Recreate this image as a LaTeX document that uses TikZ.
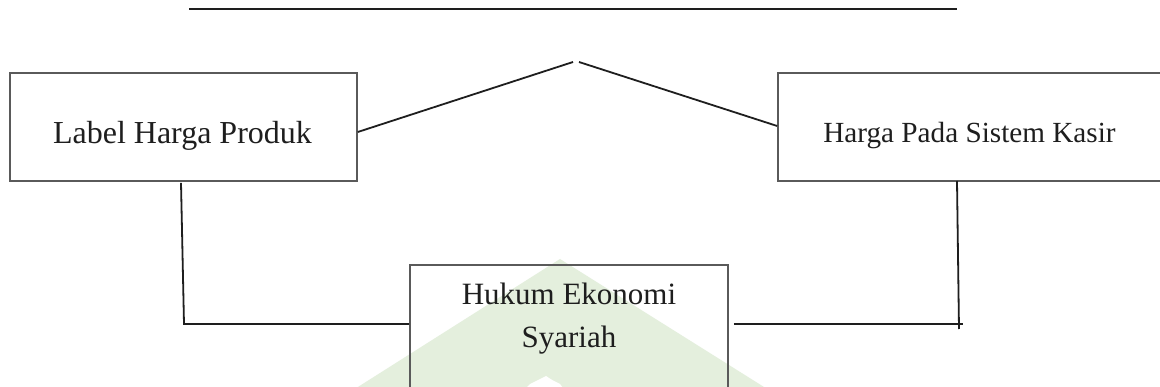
\documentclass[tikz,border=0pt]{standalone}
\usepackage{fontspec}
\setmainfont{Liberation Serif}
\usetikzlibrary{calc}
\definecolor{boxgray}{HTML}{5A5A5A}
\definecolor{ink}{HTML}{1E1E1E}
\definecolor{wmgreen}{HTML}{E4EFDD}
\tikzset{
  framebox/.style={draw=boxgray, line width=1.6pt, rectangle, inner sep=0pt},
  link/.style={draw=ink, line width=1.8pt},
  caption/.style={text=ink, inner sep=0pt}
}
\begin{document}
\begin{tikzpicture}[x=1pt, y=-1pt]
  \useasboundingbox (0,0) rectangle (1160,387);
  \clip (0,0) rectangle (1160,387);
  \fill[white] (0,0) rectangle (1160,387);

  % faint background emblem
  \fill[wmgreen] (560,259) -- (772,392) -- (350,392) -- cycle;
  \fill[white] (522,392) -- (530,384) .. controls (538,380) .. (546,376) .. controls (552,380) .. (560,384) -- (566,392) -- cycle;

  % rule across the top
  \coordinate (topL) at (189,9);
  \coordinate (topR) at (957,9);
  \draw[draw=ink, line width=2.2pt] (topL) -- (topR);

  % boxes
  \node[framebox, minimum width=347pt, minimum height=108pt] (lhp) at (183.5,127) {};
  \node[framebox, minimum width=390pt, minimum height=108pt] (hps) at (973,127) {};
  \node[framebox, minimum width=318pt, minimum height=140pt] (hes) at (569,335) {};

  % box texts
  \node[caption, anchor=base, font=\fontsize{32}{38}\selectfont] (lhpText) at (182.5,144) {Label Harga Produk};
  \node[caption, anchor=base, font=\fontsize{29.2}{35}\selectfont] (hpsText) at (969.5,143) {Harga Pada Sistem Kasir};
  \node[caption, anchor=north, align=center, font=\fontsize{31}{43}\selectfont] (hesText) at (569,282.8) {Hukum Ekonomi\\Syariah};

  % roof-shaped link between the two upper boxes
  \coordinate (apexL) at (573,62);
  \coordinate (apexR) at (579,62);
  \draw[link] ($(lhp.east)+(0,5)$) -- (apexL);
  \draw[link] (apexR) -- ($(hps.west)+(0,-1)$);

  % left elbow down to the lower box
  \coordinate (lTop) at ($(lhp.south)+(-2.5,1)$);
  \coordinate (lCorner) at (184,324);
  \draw[link] (lTop) -- (lCorner) -- (hes.west |- lCorner);

  % right elbow down to the lower box
  \coordinate (rTop) at (957,181);
  \coordinate (rBottom) at (959,329);
  \coordinate (rCorner) at (963,324);
  \draw[link] (rTop) -- (rBottom);
  \draw[link] ($(hes.east |- rCorner)+(5,0)$) -- (rCorner);
\end{tikzpicture}
\end{document}
